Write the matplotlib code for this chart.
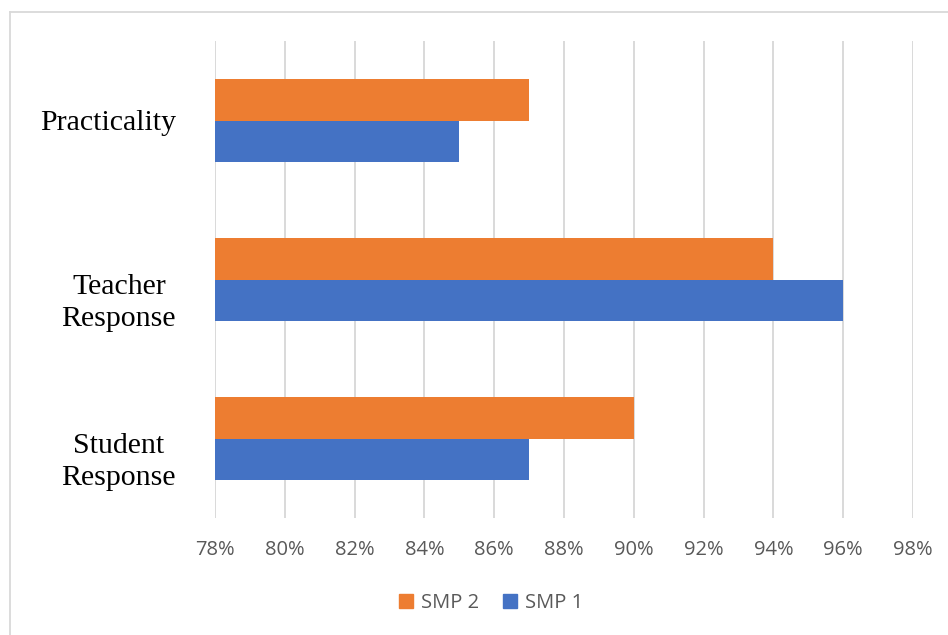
import matplotlib
matplotlib.use("Agg")
import matplotlib.pyplot as plt
import matplotlib.transforms as mtransforms
import numpy as np
from matplotlib.patches import Patch

# data (bottom to top, like Excel)
categories = ["Student\nResponse", "Teacher\nResponse", "Practicality"]
smp1 = [87, 96, 85]
smp2 = [90, 94, 87]
xticks = list(range(78, 100, 2))

BLUE = "#4472C4"
ORANGE = "#ED7D31"
GRID = "#D9D9D9"
TXT = "#595959"

fig = plt.figure(figsize=(9.48, 6.35), dpi=100)
ax = fig.add_axes([215 / 948, 1 - 518 / 635, (913 - 215) / 948, (518 - 41) / 635])

y = np.arange(len(categories))
h = 0.262
ax.barh(y - h / 2, np.array(smp1) - 78, height=h, left=78, color=BLUE, zorder=3)
ax.barh(y + h / 2, np.array(smp2) - 78, height=h, left=78, color=ORANGE, zorder=3)

ax.set_xlim(78, 98)
ax.set_ylim(-0.5, 2.5)
ax.set_xticks(xticks)
ax.set_xticklabels([f"{t}%" for t in xticks], fontfamily="Open Sans", fontsize=14.5, color=TXT)
ax.set_yticks(y)
ax.set_yticklabels(categories, fontfamily="Liberation Serif", fontsize=21.5,
                   color="black", ma="center", linespacing=1.28)
ax.tick_params(axis="x", length=0, pad=16)
ax.tick_params(axis="y", length=0, pad=28)
ax.grid(axis="x", color=GRID, lw=1.4, zorder=0)
for s in ax.spines.values():
    s.set_visible(False)

# two-line labels sit a bit lower than the bar centre in the original
shift = mtransforms.ScaledTranslation(0, -0.175, fig.dpi_scale_trans)
for lab in ax.get_yticklabels():
    if "\n" in lab.get_text():
        lab.set_transform(lab.get_transform() + shift)

# chart area border (only left and top visible in the crop)
fig.add_artist(plt.Line2D([9.5 / 948, 9.5 / 948], [0, 1 - 12 / 635], color=GRID, lw=1.3))
fig.add_artist(plt.Line2D([9.5 / 948, 1], [1 - 12 / 635, 1 - 12 / 635], color=GRID, lw=1.3))

handles = [Patch(color=ORANGE, label="SMP 2"), Patch(color=BLUE, label="SMP 1")]
fig.legend(handles=handles, loc="center", bbox_to_anchor=(491 / 948, 1 - 603 / 635),
           ncol=2, frameon=False, prop={"family": "Open Sans", "size": 14.5},
           labelcolor=TXT, handlelength=0.7, handleheight=0.7, handletextpad=0.4,
           columnspacing=1.2)

fig.savefig("out.png", dpi=100)
